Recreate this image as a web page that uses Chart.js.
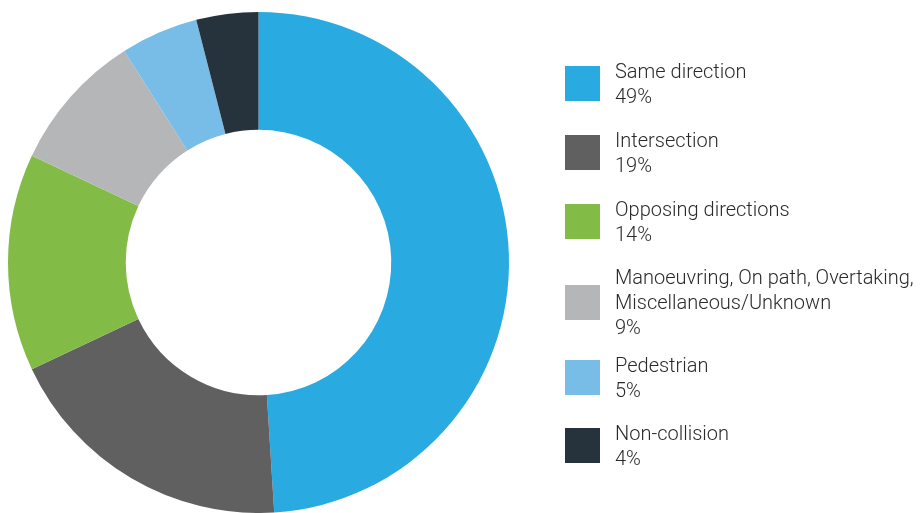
<!DOCTYPE html>
<html>
<head>
<meta charset="utf-8">
<script src="https://cdn.jsdelivr.net/npm/chart.js@4/dist/chart.umd.min.js"></script>
<style>
  html, body { margin: 0; padding: 0; background: #fff; }
  #wrap { position: relative; width: 920px; height: 513px; overflow: hidden; }
  #crashChart { position: absolute; left: 0; top: 0; }
  .legend-item {
    position: absolute; left: 565px; display: flex; align-items: center;
    font-family: Roboto, sans-serif; font-weight: 300; font-size: 20px;
    line-height: 25px; color: #2a2a2a;
  }
  .legend-box { width: 35px; height: 35px; flex: none; margin-right: 15px; }
  .legend-text { white-space: nowrap; }
</style>
</head>
<body>
<div id="wrap">
  <canvas id="crashChart" width="920" height="513"></canvas>
  <div id="legend"></div>
</div>
<script>
const labels = [
  "Same direction",
  "Intersection",
  "Opposing directions",
  "Manoeuvring, On path, Overtaking,\nMiscellaneous/Unknown",
  "Pedestrian",
  "Non-collision"
];
const shares = [49, 19, 14, 9, 5, 4];
const sliceColors = ["#29aae1", "#606060", "#82bb45", "#b5b6b8", "#77bde8", "#27333c"];

// legend box tops, text is centred against each box
const legendTops = [66, 135, 204, 285, 360, 428];

new Chart(document.getElementById("crashChart").getContext("2d"), {
  type: "doughnut",
  data: {
    labels: labels,
    datasets: [{
      data: shares,
      backgroundColor: sliceColors,
      borderWidth: 0,
      hoverOffset: 0
    }]
  },
  options: {
    responsive: false,
    animation: false,
    cutout: "53%",
    layout: { padding: { left: 8, top: 12, right: 411, bottom: 0 } },
    plugins: {
      legend: { display: false },
      tooltip: { enabled: false }
    }
  }
});

const legend = document.getElementById("legend");
labels.forEach((label, i) => {
  const item = document.createElement("div");
  item.className = "legend-item";
  const lines = label.split("\n").length + 1;
  item.style.top = (legendTops[i] + 17.5 - lines * 12.5) + "px";

  const box = document.createElement("div");
  box.className = "legend-box";
  box.style.background = sliceColors[i];

  const text = document.createElement("div");
  text.className = "legend-text";
  text.innerHTML = label.split("\n").join("<br>") + "<br>" + shares[i] + "%";

  item.appendChild(box);
  item.appendChild(text);
  legend.appendChild(item);
});
</script>
</body>
</html>
